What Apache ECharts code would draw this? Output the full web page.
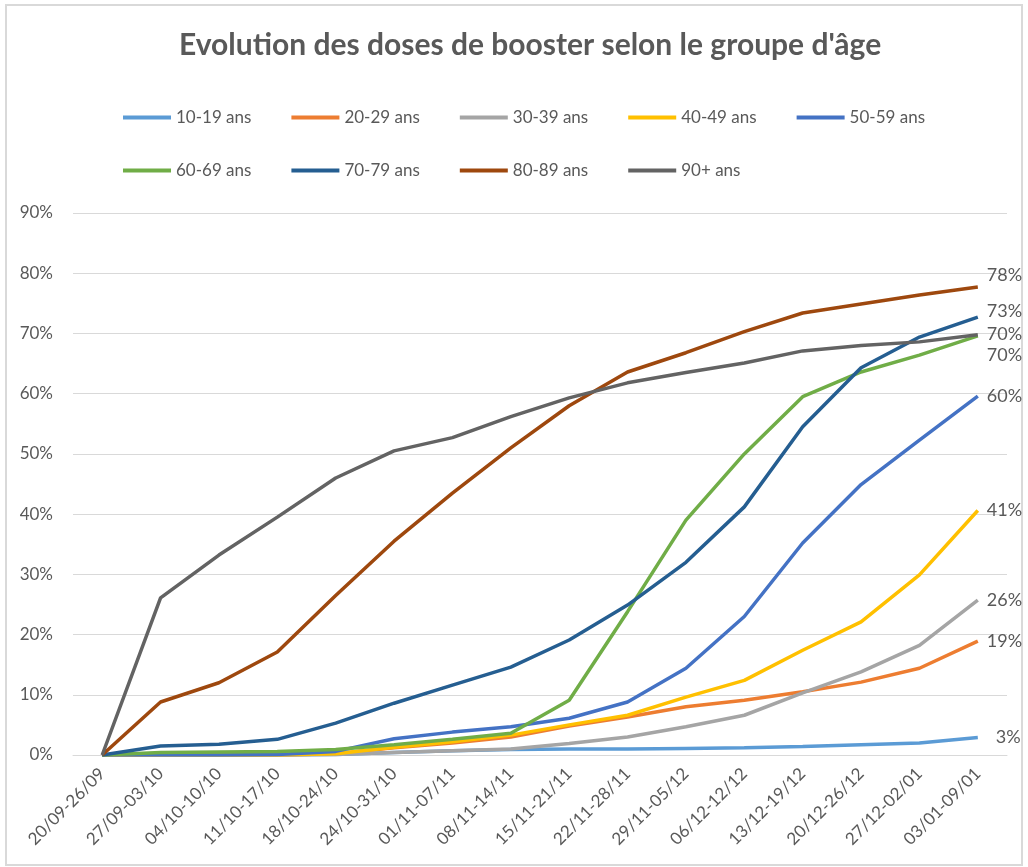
<!DOCTYPE html>
<html>
<head>
<meta charset="utf-8">
<script src="https://cdn.jsdelivr.net/npm/echarts@6/dist/echarts.min.js"></script>
<style>
  html, body { margin: 0; padding: 0; background: #fff; }
  #main { width: 1028px; height: 867px; }
</style>
</head>
<body>
<div id="main"></div>
<script>
// semaines
var weeks = ['20/09-26/09','27/09-03/10','04/10-10/10','11/10-17/10','18/10-24/10','24/10-31/10',
  '01/11-07/11','08/11-14/11','15/11-21/11','22/11-28/11','29/11-05/12','06/12-12/12',
  '13/12-19/12','20/12-26/12','27/12-02/01','03/01-09/01'];

// % booster par groupe d'âge
var ans10_19 = [0, 0, 0, 0, 0.1, 0.4, 0.7, 0.9, 1.0, 1.0, 1.1, 1.2, 1.4, 1.7, 2.0, 2.9];
var ans20_29 = [0, 0, 0, 0, 0.2, 1.2, 2.0, 3.0, 4.8, 6.3, 8.0, 9.1, 10.5, 12.1, 14.4, 18.9];
var ans30_39 = [0, 0, 0, 0, 0.1, 0.4, 0.7, 1.0, 1.9, 3.0, 4.7, 6.6, 10.3, 13.8, 18.2, 25.7];
var ans40_49 = [0, 0, 0, 0, 0.2, 1.3, 2.2, 3.3, 5.0, 6.6, 9.6, 12.4, 17.4, 22.1, 29.9, 40.6];
var ans50_59 = [0, 0, 0, 0.1, 0.6, 2.7, 3.8, 4.7, 6.1, 8.8, 14.4, 23.0, 35.2, 44.9, 52.3, 59.6];
var ans60_69 = [0, 0.4, 0.5, 0.6, 0.9, 1.7, 2.6, 3.6, 9.1, 23.8, 39.0, 50.0, 59.5, 63.6, 66.4, 69.6];
var ans70_79 = [0, 1.5, 1.8, 2.6, 5.3, 8.6, 11.6, 14.6, 19.1, 24.9, 32.0, 41.2, 54.5, 64.3, 69.4, 72.7];
var ans80_89 = [0, 8.8, 12.0, 17.1, 26.5, 35.5, 43.5, 51.0, 58.0, 63.6, 66.8, 70.3, 73.4, 74.9, 76.4, 77.7];
var ans90 = [0, 26.1, 33.2, 39.5, 46.0, 50.5, 52.7, 56.2, 59.3, 61.8, 63.5, 65.1, 67.1, 68.0, 68.6, 69.8];

var yTicks = { min: 0, max: 90, interval: 10 };

var txt = '#595959';
var font = 'Lato, "Open Sans", sans-serif';

var groupes = [
  { name: '10-19 ans', data: ans10_19, color: '#5B9BD5', off: [9, 0] },
  { name: '20-29 ans', data: ans20_29, color: '#ED7D31', off: [0, 0] },
  { name: '30-39 ans', data: ans30_39, color: '#A5A5A5', off: [0, 0] },
  { name: '40-49 ans', data: ans40_49, color: '#FFC000', off: [0, 0] },
  { name: '50-59 ans', data: ans50_59, color: '#4472C4', off: [0, 0] },
  { name: '60-69 ans', data: ans60_69, color: '#70AD47', off: [0, 19] },
  { name: '70-79 ans', data: ans70_79, color: '#255E91', off: [0, -6] },
  { name: '80-89 ans', data: ans80_89, color: '#9E480E', off: [0, -12] },
  { name: '90+ ans', data: ans90, color: '#636363', off: [0, 0] }
];

var series = groupes.map(function (g) {
  return {
    name: g.name,
    type: 'line',
    data: g.data,
    symbol: 'none',
    color: g.color,
    lineStyle: { width: 3.5, color: g.color },
    endLabel: {
      show: true,
      distance: 9,
      offset: g.off,
      color: txt,
      fontFamily: font,
      fontSize: 18,
      formatter: function (p) { return Math.round(p.value) + '%'; }
    }
  };
});

var legendBase = {
  left: 118,
  orient: 'horizontal',
  icon: 'rect',
  itemWidth: 48,
  itemHeight: 4,
  itemGap: 40,
  textStyle: { color: txt, fontFamily: font, fontSize: 17 }
};

var myChart = echarts.init(document.getElementById('main'));
var option = {
  backgroundColor: '#fff',
  animation: false,
  title: {
    text: "Evolution des doses de booster selon le groupe d'âge",
    left: 174,
    top: 25,
    textStyle: { color: txt, fontFamily: font, fontSize: 30, fontWeight: 'bold' }
  },
  legend: [
    Object.assign({}, legendBase, { top: 104, data: groupes.slice(0, 5).map(function (g) { return g.name; }) }),
    Object.assign({}, legendBase, { top: 157, data: groupes.slice(5).map(function (g) { return g.name; }) })
  ],
  grid: { left: 73, right: 21, top: 213, bottom: 112 },
  xAxis: {
    type: 'category',
    data: weeks,
    boundaryGap: true,
    axisLine: { lineStyle: { color: '#D9D9D9' } },
    axisTick: { show: false },
    axisLabel: { rotate: 45, margin: 16, color: txt, fontFamily: font, fontSize: 17, interval: 0 }
  },
  yAxis: {
    type: 'value',
    min: yTicks.min,
    max: yTicks.max,
    interval: yTicks.interval,
    axisLine: { show: false },
    axisTick: { show: false },
    splitLine: { lineStyle: { color: '#D9D9D9' } },
    axisLabel: { margin: 20, color: txt, fontFamily: font, fontSize: 17, formatter: '{value}%' }
  },
  graphic: [{
    type: 'rect',
    shape: { x: 6, y: 5, width: 1016, height: 860 },
    style: { fill: 'none', stroke: '#D9D9D9', lineWidth: 2 },
    silent: true
  }],
  series: series
};

myChart.setOption(option);
</script>
</body>
</html>
